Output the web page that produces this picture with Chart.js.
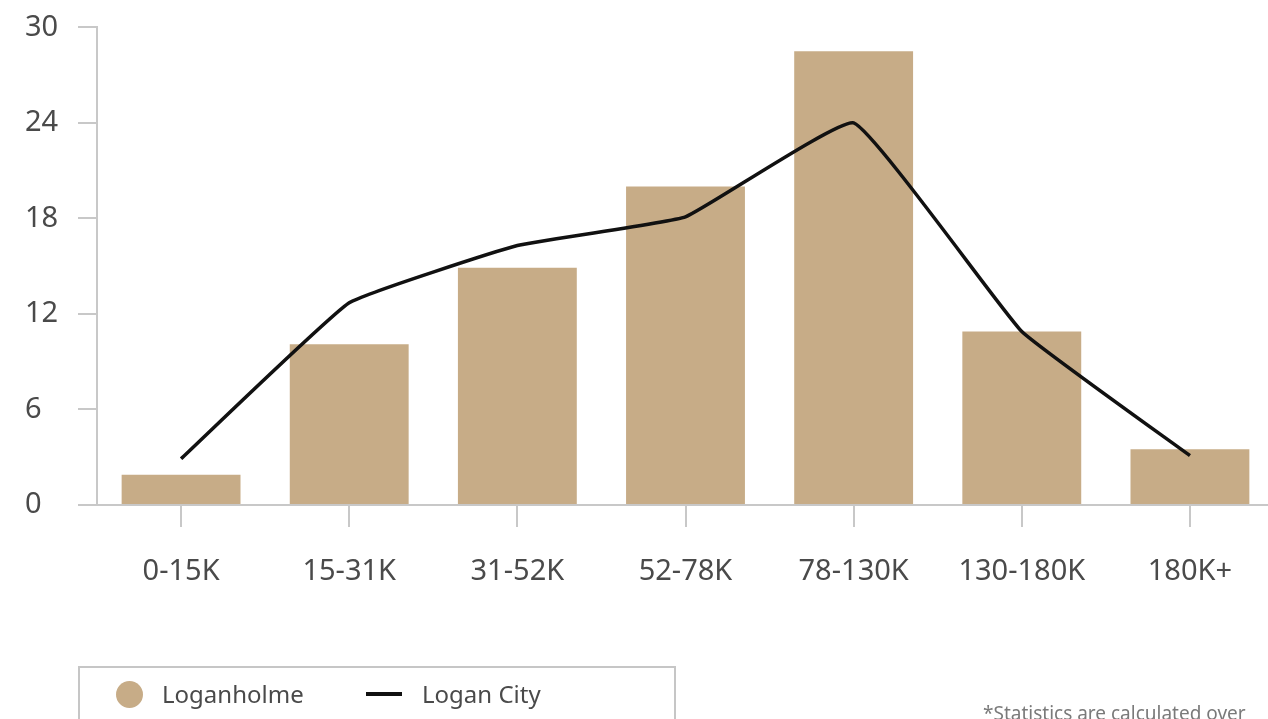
<!DOCTYPE html>
<html>
<head>
<meta charset="utf-8">
<script src="https://cdn.jsdelivr.net/npm/chart.js@4/dist/chart.umd.min.js"></script>
<style>
  html, body { margin: 0; padding: 0; background: #fff; overflow: hidden; width: 1268px; height: 719px; }
  #wrap { position: relative; width: 1268px; height: 719px; font-family: "Noto Sans", sans-serif; }
  #chart { position: absolute; left: 0; top: 0; }
  .legend-box { position: absolute; left: 78px; top: 666px; width: 598px; height: 80px; border: 2px solid #c6c6c6; box-sizing: border-box; }
  .legend-item { position: absolute; top: 12px; font-size: 24px; color: #4a4a4a; line-height: 28px; }
  .dot { position: absolute; left: 36px; top: 13px; width: 27px; height: 27px; border-radius: 50%; background: #c7ac87; }
  .dash { position: absolute; left: 286px; top: 24px; width: 36px; height: 4px; background: #111; }
  .note { position: absolute; left: 983px; top: 700px; font-size: 19px; color: #7a7a7a; white-space: nowrap; }
</style>
</head>
<body>
<div id="wrap">
  <canvas id="chart" width="1276" height="719"></canvas>
  <div class="legend-box">
    <span class="dot"></span>
    <span class="legend-item" style="left:82px">Loganholme</span>
    <span class="dash"></span>
    <span class="legend-item" style="left:342px">Logan City</span>
  </div>
  <div class="note">*Statistics are calculated over</div>
</div>
<script>
const categorias = ["0-15K", "15-31K", "31-52K", "52-78K", "78-130K", "130-180K", "180K+"];
const loganholme = [1.9, 10.1, 14.9, 20.0, 28.5, 10.9, 3.5];
const loganCity = [2.9, 12.7, 16.3, 18.1, 24.0, 10.9, 3.1];
const ticksY = [0, 6, 12, 18, 24, 30];

const colorEje = "#c8c8c8";
const colorTexto = "#4a4a4a";

new Chart(document.getElementById("chart"), {
  data: {
    labels: categorias,
    datasets: [
      {
        type: "line",
        label: "Logan City",
        data: loganCity,
        borderColor: "#111111",
        borderWidth: 3.5,
        pointRadius: 0,
        tension: 0.1,
        fill: false,
        order: 0
      },
      {
        type: "bar",
        label: "Loganholme",
        data: loganholme,
        backgroundColor: "#c7ac87",
        categoryPercentage: 1,
        barPercentage: 0.707,
        order: 1
      }
    ]
  },
  options: {
    responsive: false,
    devicePixelRatio: 1,
    animation: false,
    layout: { padding: { left: 25, top: 24, right: 2, bottom: 134 } },
    plugins: {
      legend: { display: false },
      tooltip: { enabled: false }
    },
    scales: {
      x: {
        offset: true,
        grid: { offset: false, drawOnChartArea: false, drawTicks: true, tickLength: 22, color: colorEje, lineWidth: 2 },
        border: { display: true, color: colorEje, width: 2 },
        ticks: { color: colorTexto, font: { family: "Noto Sans", size: 29 }, padding: 27, maxRotation: 0 },
        afterFit: scale => { scale.height = 80; }
      },
      y: {
        min: 0,
        max: 30,
        afterBuildTicks: scale => { scale.ticks = ticksY.map(v => ({ value: v })); },
        grid: { drawOnChartArea: false, drawTicks: true, tickLength: 19, color: colorEje, lineWidth: 2 },
        border: { display: true, color: colorEje, width: 2 },
        ticks: { color: colorTexto, font: { family: "Noto Sans", size: 29 }, crossAlign: "far", padding: 10 },
        afterFit: scale => { scale.width = 72; }
      }
    }
  }
});
</script>
</body>
</html>
